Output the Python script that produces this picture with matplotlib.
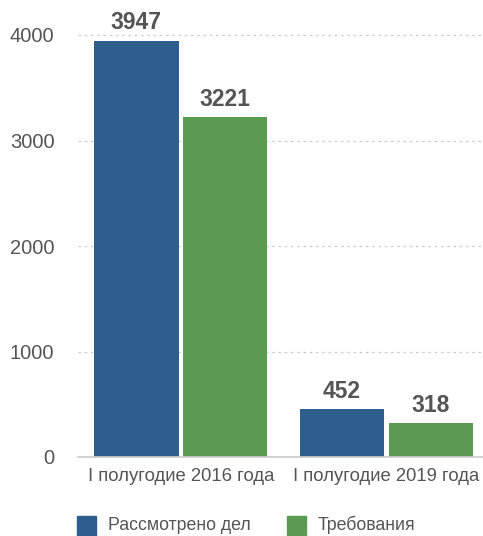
import matplotlib
matplotlib.use("agg")
import matplotlib.pyplot as plt
import numpy as np
from matplotlib.patches import Rectangle

plt.rcParams["font.family"] = ["Liberation Sans", "DejaVu Sans"]

categories = ["I полугодие 2016 года", "I полугодие 2019 года"]
series_names = ["Рассмотрено дел", "Требования"]
reviewed = [3947, 452]
claims = [3221, 318]
yticks = [0, 1000, 2000, 3000, 4000]

BLUE, GREEN, TXT = "#2e5e8e", "#5b9a52", "#555555"

fig = plt.figure(figsize=(4.83, 5.36), dpi=100)
ax = fig.add_axes([78 / 483, 79 / 536, 405 / 483, 422 / 536])

x = np.arange(len(categories))
w, off = 0.41, 0.216
b1 = ax.bar(x - off, reviewed, width=w, color=BLUE, zorder=3)
b2 = ax.bar(x + off, claims, width=w, color=GREEN, zorder=3)
for bars, vals in ((b1, reviewed), (b2, claims)):
    for r, v in zip(bars, vals):
        ax.text(r.get_x() + r.get_width() / 2, v + 60, str(v), ha="center", va="bottom",
                fontsize=16.5, color=TXT, fontweight="bold", clip_on=False)

ax.set_xlim(-0.5, 1.47)
ax.set_ylim(0, 4000)
ax.set_yticks(yticks)
ax.set_yticklabels([str(t) for t in yticks], fontsize=14.5, color=TXT)
ax.set_xticks(x)
ax.set_xticklabels(categories, fontsize=13.3, color=TXT)
ax.tick_params(length=0)
ax.tick_params(axis="y", pad=17)
ax.tick_params(axis="x", pad=8)
for s in ax.spines.values():
    s.set_visible(False)
for t in yticks[1:]:
    ax.axhline(t, color="#cccccc", lw=0.9, ls=(0, (2, 3)), zorder=1, clip_on=False)
ax.axhline(0, color="#cccccc", lw=1.2, zorder=4, clip_on=False)

# legend
for xs, c, name in ((77, BLUE, series_names[0]), (287, GREEN, series_names[1])):
    fig.patches.append(Rectangle((xs / 483, (536 - 535) / 536), 19 / 483, 19 / 536,
                                 transform=fig.transFigure, color=c))
    fig.text((xs + 31) / 483, (536 - 525) / 536, name, fontsize=12.8, color=TXT, va="center")

fig.savefig("out.png", dpi=100)
